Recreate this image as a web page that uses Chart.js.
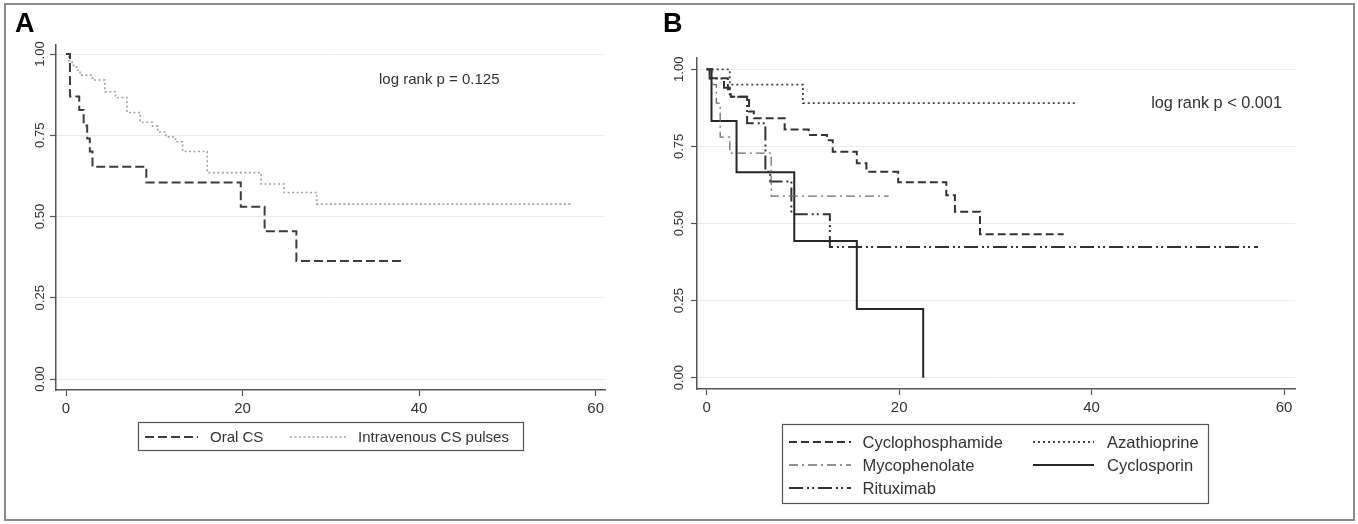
<!DOCTYPE html>
<html><head><meta charset="utf-8">
<script src="https://cdn.jsdelivr.net/npm/chart.js@4.4.1/dist/chart.umd.min.js"></script>
<style>
html,body{margin:0;padding:0;background:#fff;}
body{width:1358px;height:524px;position:relative;overflow:hidden;}
#frame{position:absolute;left:4px;top:3px;width:1347px;height:514px;border:2px solid #8c8c8c;}
#wa{position:absolute;left:0;top:0;width:660px;height:524px;}
#wb{position:absolute;left:660px;top:0;width:698px;height:524px;}
canvas{display:block;}
</style></head><body>
<div id="frame"></div>
<div id="wa"><canvas id="ca" width="660" height="524"></canvas></div>
<div id="wb"><canvas id="cb" width="698" height="524"></canvas></div>
<script>
// ---------- data ----------
const xTickValues = [0, 20, 40, 60];
const yTickValues = [0, 0.25, 0.5, 0.75, 1];

// Panel A
const oralTimes = [0, 0.45, 1.5, 2.0, 2.4, 2.7, 3.0, 9.1, 19.8, 22.5, 26.1, 38.4];
const oralSurv  = [1.0, 0.869, 0.828, 0.78, 0.74, 0.70, 0.653, 0.605, 0.53, 0.455, 0.363, 0.363];
const ivTimes = [0, 0.3, 0.7, 1.2, 1.6, 3.0, 4.4, 5.6, 6.9, 8.4, 9.8, 10.4, 11.3, 12.4, 13.2, 16.0, 22.1, 24.7, 28.4, 57.3];
const ivSurv  = [1.0, 0.98, 0.965, 0.95, 0.935, 0.92, 0.884, 0.866, 0.82, 0.79, 0.778, 0.76, 0.745, 0.73, 0.70, 0.635, 0.60, 0.574, 0.538, 0.538];

// Panel B
const cycloTimes = [0, 0.5, 2.2, 2.5, 4.4, 4.9, 8.1, 10.6, 12.5, 13.1, 15.6, 16.6, 19.9, 24.9, 25.8, 28.4, 37.1];
const cycloSurv  = [1.0, 0.971, 0.935, 0.911, 0.863, 0.841, 0.805, 0.787, 0.77, 0.733, 0.695, 0.668, 0.634, 0.592, 0.538, 0.465, 0.465];
const azaTimes = [0, 2.4, 10.0, 38.3];
const azaSurv  = [1.0, 0.95, 0.89, 0.89];
const mycoTimes = [0, 0.6, 1.0, 1.4, 2.4, 6.7, 18.9];
const mycoSurv  = [1.0, 0.95, 0.89, 0.78, 0.728, 0.589, 0.589];
const csaTimes = [0, 0.5, 3.1, 9.1, 15.6, 22.5];
const csaSurv  = [1.0, 0.832, 0.666, 0.443, 0.223, 0.0];
const rtxTimes = [0, 0.3, 1.8, 2.4, 4.2, 6.1, 6.6, 8.8, 12.8, 57.3];
const rtxSurv  = [1.0, 0.97, 0.94, 0.911, 0.825, 0.668, 0.636, 0.53, 0.424, 0.424];

const labelsA = ['Oral CS', 'Intravenous CS pulses'];
const labelsB = ['Cyclophosphamide', 'Azathioprine', 'Mycophenolate', 'Cyclosporin', 'Rituximab'];
const noteA = 'log rank p = 0.125';
const noteB = 'log rank p < 0.001';

// ---------- helpers ----------
Chart.defaults.font.family = "'Liberation Sans', Arial, sans-serif";
Chart.defaults.color = '#333';

function pts(ts, vs) { return ts.map((t, i) => ({ x: t, y: vs[i] })); }
function km(label, ts, vs, color, width, dash) {
  return { label, data: pts(ts, vs), stepped: 'before', borderColor: color, borderWidth: width,
           borderDash: dash, pointRadius: 0, fill: false, tension: 0 };
}

const boxLegend = {
  id: 'boxLegend',
  afterDraw(chart, args, o) {
    const ctx = chart.ctx;
    ctx.save();
    ctx.strokeStyle = o.borderColor; ctx.lineWidth = o.borderWidth;
    ctx.strokeRect(o.box[0], o.box[1], o.box[2], o.box[3]);
    o.items.forEach(it => {
      const ds = chart.data.datasets[it.ds];
      ctx.save();
      ctx.strokeStyle = ds.borderColor; ctx.lineWidth = ds.borderWidth;
      ctx.setLineDash(ds.borderDash || []);
      ctx.beginPath(); ctx.moveTo(it.x0, it.y); ctx.lineTo(it.x1, it.y); ctx.stroke();
      ctx.restore();
      ctx.fillStyle = o.color; ctx.font = o.font; ctx.textBaseline = 'middle'; ctx.textAlign = 'left';
      ctx.fillText(ds.label, it.tx, it.y + 1);
    });
    ctx.restore();
  }
};
const notes = {
  id: 'notes',
  afterDraw(chart, args, o) {
    const ctx = chart.ctx;
    ctx.save();
    ctx.textAlign = 'left'; ctx.textBaseline = 'alphabetic';
    ctx.fillStyle = '#000'; ctx.font = o.letterFont;
    ctx.fillText(o.letter, o.letterX, o.letterY);
    ctx.fillStyle = o.noteColor; ctx.font = o.noteFont;
    ctx.fillText(o.note, chart.scales.x.getPixelForValue(o.noteAt[0]), chart.scales.y.getPixelForValue(o.noteAt[1]));
    ctx.restore();
  }
};

function makeOptions(cfg) {
  return {
    responsive: false, animation: false,
    layout: { padding: cfg.padding },
    plugins: { legend: { display: false }, tooltip: { enabled: false },
               boxLegend: cfg.legend, notes: cfg.notes },
    scales: {
      x: {
        type: 'linear', min: cfg.xMin, max: cfg.xMax,
        afterBuildTicks: s => { s.ticks = xTickValues.map(v => ({ value: v })); },
        afterFit: s => { s.height = 30; },
        ticks: { font: { size: 15 }, color: '#333', padding: 4, maxRotation: 0, callback: v => String(v) },
        grid: { drawOnChartArea: false, drawTicks: true, tickLength: 6, tickColor: '#555', tickWidth: 1.2 },
        border: { display: true, color: '#555', width: 1.5 }
      },
      y: {
        type: 'linear', min: cfg.yMin, max: cfg.yMax,
        afterBuildTicks: s => { s.ticks = yTickValues.map(v => ({ value: v })); },
        afterFit: s => { s.width = cfg.yWidth; },
        ticks: { font: { size: 13 }, color: '#333', minRotation: 90, maxRotation: 90,
                 crossAlign: 'center', padding: cfg.yPad, callback: v => v.toFixed(2) },
        grid: { color: '#e4eeee', lineWidth: 1, drawTicks: true, tickLength: 6, tickColor: '#555', tickWidth: 1.2 },
        border: { display: true, color: '#555', width: 1.5 }
      }
    }
  };
}

// ---------- Panel A ----------
new Chart(document.getElementById('ca'), {
  type: 'line',
  data: { datasets: [
    km(labelsA[0], oralTimes, oralSurv, '#3d3d3d', 2, [9, 4]),
    km(labelsA[1], ivTimes, ivSurv, '#a3a3a3', 1.6, [2, 2.5])
  ] },
  options: makeOptions({
    padding: { left: 0, top: 45, right: 55, bottom: 104 },
    xMin: -1.133, xMax: 61.06, yMin: -0.0338, yMax: 1.0277, yWidth: 56, yPad: -3,
    legend: { box: [138.5, 422.5, 385, 28], borderColor: '#555', borderWidth: 1.2, color: '#333',
              font: "15px 'Liberation Sans', Arial, sans-serif",
              items: [ { ds: 0, x0: 145, x1: 198, y: 437, tx: 210 },
                       { ds: 1, x0: 290, x1: 347, y: 437, tx: 358 } ] },
    notes: { letter: 'A', letterX: 15, letterY: 32, letterFont: "bold 27px 'Liberation Sans', Arial, sans-serif",
             note: noteA, noteAt: [35.46, 0.9077], noteColor: '#333',
             noteFont: "15px 'Liberation Sans', Arial, sans-serif" }
  }),
  plugins: [boxLegend, notes]
});

// ---------- Panel B ----------
new Chart(document.getElementById('cb'), {
  type: 'line',
  data: { datasets: [
    km(labelsB[0], cycloTimes, cycloSurv, '#333', 2, [8, 4]),
    km(labelsB[1], azaTimes, azaSurv, '#444', 1.8, [2, 3]),
    km(labelsB[2], mycoTimes, mycoSurv, '#6e6e6e', 1.3, [9, 4, 2, 4]),
    km(labelsB[3], csaTimes, csaSurv, '#262626', 2, []),
    km(labelsB[4], rtxTimes, rtxSurv, '#333', 2, [14, 4, 2, 3, 2, 4])
  ] },
  options: makeOptions({
    padding: { left: 0, top: 58, right: 63, bottom: 105 },
    xMin: -1.008, xMax: 61.14, yMin: -0.0366, yMax: 1.0366, yWidth: 37, yPad: -0.6,
    legend: { box: [122.5, 424.5, 426, 79], borderColor: '#555', borderWidth: 1.2, color: '#333',
              font: "16.5px 'Liberation Sans', Arial, sans-serif",
              items: [ { ds: 0, x0: 129, x1: 191, y: 442, tx: 202.5 },
                       { ds: 1, x0: 373, x1: 434, y: 442, tx: 447 },
                       { ds: 2, x0: 129, x1: 191, y: 465, tx: 202.5 },
                       { ds: 3, x0: 373, x1: 434, y: 465, tx: 447 },
                       { ds: 4, x0: 129, x1: 191, y: 488, tx: 202.5 } ] },
    notes: { letter: 'B', letterX: 3, letterY: 32, letterFont: "bold 27px 'Liberation Sans', Arial, sans-serif",
             note: noteB, noteAt: [46.19, 0.8745], noteColor: '#333',
             noteFont: "16.3px 'Liberation Sans', Arial, sans-serif" }
  }),
  plugins: [boxLegend, notes]
});
</script>
</body></html>
